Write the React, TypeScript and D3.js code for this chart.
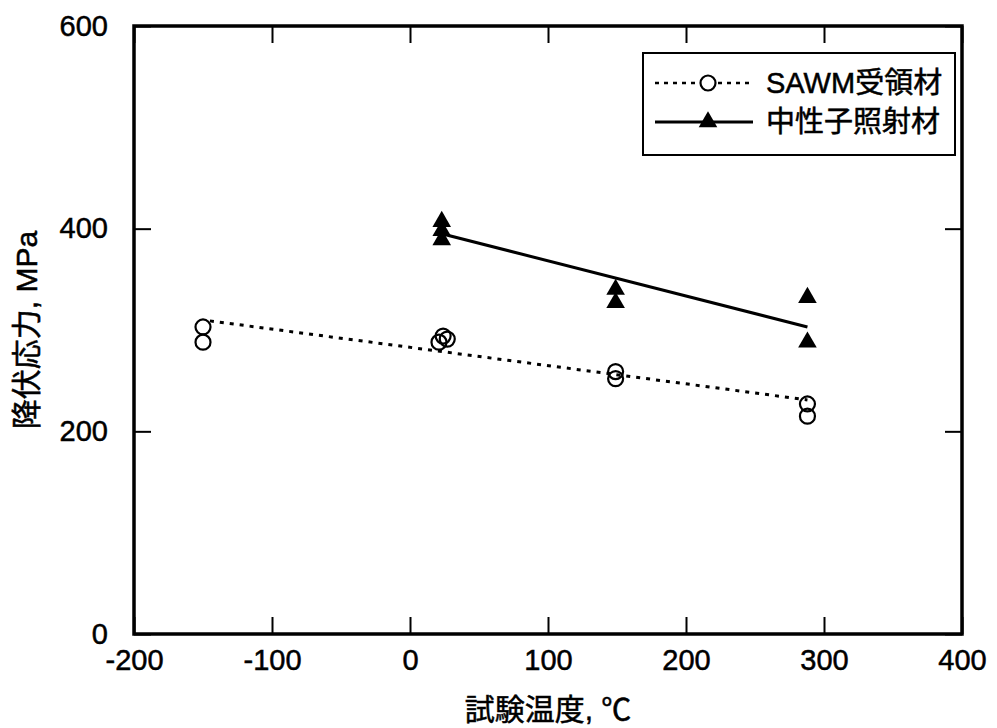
import * as d3 from 'd3'
import { useEffect, useRef } from 'react'

// SAWM as-received (open circles)
const sawmTemp = [-150, -150, 21, 24, 27, 149, 149, 288, 288]
const sawmStress = [303, 288, 288, 294, 291, 259, 252, 227, 215]
// neutron irradiated (filled triangles)
const irrTemp = [23, 23, 23, 149, 149, 288, 288]
const irrStress = [407, 398, 389, 340, 327, 332, 288]
// fitted trend lines
const sawmFitTemp = [-145, 288]
const sawmFitStress = [309, 231]
const irrFitTemp = [23, 288]
const irrFitStress = [395, 303]

const xTicks = [-200, -100, 0, 100, 200, 300, 400]
const yTicks = [0, 200, 400, 600]
const legendLabels = ['SAWM受領材', '中性子照射材']
const xTitle = '試験温度, ℃'
const yTitle = '降伏応力, MPa'

const FONT = "'Liberation Sans', Arial, 'Noto Sans CJK JP', sans-serif"

type Pt = { t: number; v: number }
const zip = (a: number[], b: number[]): Pt[] => a.map((t, i) => ({ t, v: b[i] }))

export default function App() {
  const width = 997
  const height = 728
  const marginLeft = 134
  const marginRight = 35
  const marginTop = 26
  const marginBottom = 94

  const x = d3.scaleLinear([-200, 400], [marginLeft, width - marginRight])
  const y = d3.scaleLinear([0, 600], [height - marginBottom, marginTop])

  const line = d3.line<Pt>().x((d) => x(d.t)).y((d) => y(d.v))
  const tri = d3.symbol(d3.symbolTriangle, 150)()

  const gx = useRef<SVGGElement>(null)
  const gy = useRef<SVGGElement>(null)
  const gxTop = useRef<SVGGElement>(null)
  const gyRight = useRef<SVGGElement>(null)

  useEffect(() => {
    const style = (g: d3.Selection<SVGGElement, unknown, null, undefined>) => {
      g.select('.domain').remove()
      g.selectAll('line').attr('stroke', '#000').attr('stroke-width', 2)
      g.selectAll('text')
        .attr('font-family', FONT)
        .attr('font-size', 29)
        .attr('fill', '#000')
        .attr('stroke', '#000')
        .attr('stroke-width', 0.5)
    }
    const plain = (d: d3.NumberValue) => String(d)
    d3.select(gx.current as SVGGElement)
      .call(d3.axisBottom(x).tickValues(xTicks).tickSize(-17).tickPadding(15).tickFormat(plain))
      .call(style)
    d3.select(gy.current as SVGGElement)
      .call(d3.axisLeft(y).tickValues(yTicks).tickSize(-17).tickPadding(26).tickFormat(plain))
      .call(style)
    d3.select(gxTop.current as SVGGElement)
      .call(d3.axisTop(x).tickValues(xTicks).tickSize(-17).tickFormat(() => ''))
      .call(style)
    d3.select(gyRight.current as SVGGElement)
      .call(d3.axisRight(y).tickValues(yTicks).tickSize(-17).tickFormat(() => ''))
      .call(style)
  }, [])

  const sawm = zip(sawmTemp, sawmStress)
  const irr = zip(irrTemp, irrStress)

  return (
    <svg
      width={width}
      height={height}
      style={{ position: 'absolute', left: 0, top: 0, background: '#fff' }}
    >
      <g ref={gx} transform={`translate(0,${height - marginBottom})`} />
      <g ref={gy} transform={`translate(${marginLeft},0)`} />
      <g ref={gxTop} transform={`translate(0,${marginTop})`} />
      <g ref={gyRight} transform={`translate(${width - marginRight},0)`} />
      <rect
        x={marginLeft}
        y={marginTop}
        width={width - marginLeft - marginRight}
        height={height - marginTop - marginBottom}
        fill="none"
        stroke="#000"
        strokeWidth={3.5}
      />

      {/* trend lines */}
      <path
        d={line(zip(sawmFitTemp, sawmFitStress)) as string}
        fill="none"
        stroke="#000"
        strokeWidth={3}
        strokeDasharray="4 6"
      />
      <path
        d={line(zip(irrFitTemp, irrFitStress)) as string}
        fill="none"
        stroke="#000"
        strokeWidth={3}
      />

      {/* markers */}
      {sawm.map((d, i) => (
        <circle key={'c' + i} cx={x(d.t)} cy={y(d.v)} r={7.5} fill="none" stroke="#000" strokeWidth={2.2} />
      ))}
      {irr.map((d, i) => (
        <path key={'t' + i} d={tri as string} transform={`translate(${x(d.t)},${y(d.v)})`} fill="#000" />
      ))}

      {/* legend */}
      <g fontFamily={FONT} fontSize={29}>
        <rect x={643} y={53} width={312} height={102} fill="#fff" stroke="#000" strokeWidth={2} />
        <line x1={655} x2={753} y1={83} y2={83} stroke="#000" strokeWidth={2.5} strokeDasharray="4 5" />
        <circle cx={708} cy={83} r={7.5} fill="#fff" stroke="#000" strokeWidth={2.2} />
        <text x={766} y={93} stroke="#000" strokeWidth={0.5}>{legendLabels[0]}</text>
        <line x1={655} x2={753} y1={122} y2={122} stroke="#000" strokeWidth={3} />
        <path d={tri as string} transform="translate(708,122)" fill="#000" />
        <text x={766} y={132} stroke="#000" strokeWidth={0.5}>{legendLabels[1]}</text>
      </g>

      {/* axis titles */}
      <text
        x={(marginLeft + width - marginRight) / 2}
        y={720}
        textAnchor="middle"
        fontFamily={FONT}
        fontSize={30}
        stroke="#000"
        strokeWidth={0.5}
      >
        {xTitle}
      </text>
      <text
        transform={`translate(37,${(marginTop + height - marginBottom) / 2}) rotate(-90)`}
        textAnchor="middle"
        fontFamily={FONT}
        fontSize={30}
        stroke="#000"
        strokeWidth={0.5}
      >
        {yTitle}
      </text>
    </svg>
  )
}
